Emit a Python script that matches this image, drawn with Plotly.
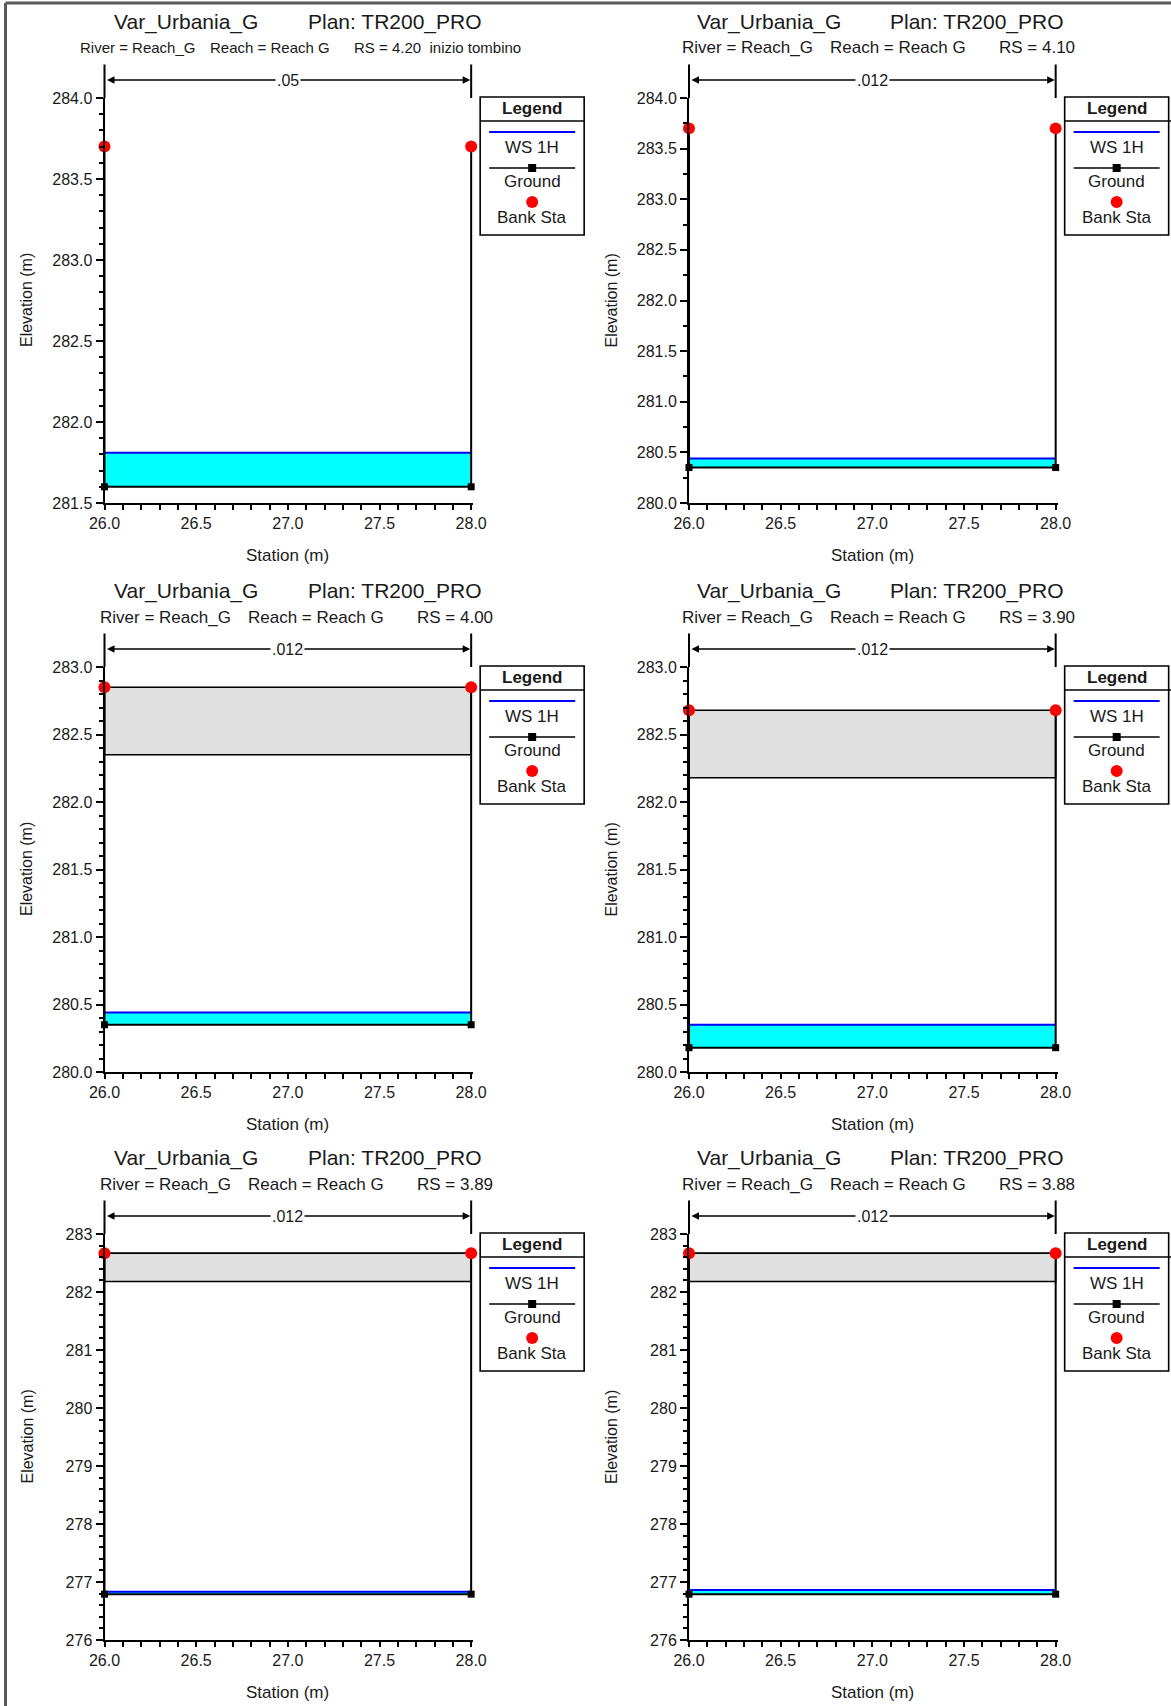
import plotly.graph_objects as go

W, H = 1171, 1706
FONT = "Liberation Sans, Arial, Helvetica, sans-serif"
INK = "#1a1a1a"

# ---- cross-section data (one entry per river station) ----
project = "Var_Urbania_G"
plan = "TR200_PRO"
river = "Reach_G"
reach = "Reach G"
rs_text = ["4.20\u00a0 inizio tombino", "4.10", "4.00", "3.90", "3.89", "3.88"]
manning_n = [".05", ".012", ".012", ".012", ".012", ".012"]
left_sta = [26.0, 26.0, 26.0, 26.0, 26.0, 26.0]
right_sta = [28.0, 28.0, 28.0, 28.0, 28.0, 28.0]
bank_elev = [283.70, 283.70, 282.85, 282.68, 282.67, 282.67]
invert_elev = [281.60, 280.35, 280.35, 280.18, 276.79, 276.79]
ws_elev = [281.81, 280.44, 280.44, 280.35, 276.83, 276.86]
deck_high = [None, None, 282.85, 282.68, 282.67, 282.67]
deck_low = [None, None, 282.35, 282.18, 282.18, 282.18]

# ---- axis settings ----
x_range = [26.0, 28.01]
x_dtick, x_minor = 0.5, 0.1
y_ranges = [(281.5, 284.0), (280.0, 284.0), (280.0, 283.0),
            (280.0, 283.0), (276.0, 283.0), (276.0, 283.0)]
y_dtick = [0.5, 0.5, 0.5, 0.5, 1.0, 1.0]
y_minor = [0.1, 0.25, 0.1, 0.1, 0.2, 0.2]
y_fmt = [".1f", ".1f", ".1f", ".1f", "d", "d"]

# ---- page geometry (pixels) ----
col_left = [104.5, 689.0]
plot_w = 368.5
unit_px = plot_w / (x_range[1] - x_range[0])
row_top = [98.0, 667.0, 1234.0]
row_bot = [503.0, 1072.0, 1640.0]
title_offs = [(7.5, 201.5), (6.0, 198.5)]
sub_offs = [(-7.0, 141.0, 310.0), (-9.0, 139.0, 308.0)]


def PX(x):
    return x / W


def PY(y):
    return 1 - y / H


fig = go.Figure()
annotations = []
shapes = []
layout_axes = {}


def text_ann(text, x, y, size, xanchor="center", yanchor="middle", bold=False,
             angle=0, **kw):
    d = dict(text=f"<b>{text}</b>" if bold else text, x=x, y=y,
             xref=kw.pop("xref", "paper"), yref=kw.pop("yref", "paper"),
             xanchor=xanchor, yanchor=yanchor, showarrow=False,
             textangle=angle, font=dict(family=FONT, size=size, color=INK))
    d.update(kw)
    annotations.append(d)


for i in range(6):
    r, c = divmod(i, 2)
    sfx = "" if i == 0 else str(i + 1)
    xa, ya = "x" + sfx, "y" + sfx
    L, T, B = col_left[c], row_top[r], row_bot[r]
    xs_l, xs_r = left_sta[i], right_sta[i]

    # water between invert and water surface
    fig.add_trace(go.Scatter(
        x=[xs_l, xs_r, xs_r, xs_l, xs_l],
        y=[invert_elev[i], invert_elev[i], ws_elev[i], ws_elev[i], invert_elev[i]],
        mode="lines", fill="toself", fillcolor="#00FFFF",
        line=dict(width=0, color="#00FFFF"), xaxis=xa, yaxis=ya,
        hoverinfo="skip", showlegend=False))
    # WS 1H
    fig.add_trace(go.Scatter(
        x=[xs_l, xs_r], y=[ws_elev[i], ws_elev[i]], mode="lines",
        line=dict(color="#0000FF", width=2), xaxis=xa, yaxis=ya,
        name="WS 1H", showlegend=False))
    # culvert deck between high and low chord
    if deck_high[i] is not None:
        fig.add_trace(go.Scatter(
            x=[xs_l, xs_r, xs_r, xs_l, xs_l],
            y=[deck_high[i], deck_high[i], deck_low[i], deck_low[i], deck_high[i]],
            mode="lines", fill="toself", fillcolor="#E0E0E0",
            line=dict(color="black", width=1.6), xaxis=xa, yaxis=ya,
            hoverinfo="skip", showlegend=False))
    # Ground
    fig.add_trace(go.Scatter(
        x=[xs_l, xs_l, xs_r, xs_r],
        y=[bank_elev[i], invert_elev[i], invert_elev[i], bank_elev[i]],
        mode="lines+markers", line=dict(color="black", width=2),
        marker=dict(symbol="square", size=7, color="black"),
        cliponaxis=False, xaxis=xa, yaxis=ya, name="Ground", showlegend=False))
    # Bank Sta
    fig.add_trace(go.Scatter(
        x=[xs_l, xs_r], y=[bank_elev[i], bank_elev[i]], mode="markers",
        marker=dict(symbol="circle", size=12, color="#FF0000"),
        cliponaxis=False, xaxis=xa, yaxis=ya, name="Bank Sta", showlegend=False))

    tickfont = dict(family=FONT, size=16, color=INK)
    layout_axes["xaxis" + sfx] = dict(
        domain=[PX(L), PX(L + plot_w)], anchor=ya, range=x_range,
        automargin=False,
        tickmode="linear", tick0=x_range[0], dtick=x_dtick, tickformat=".1f",
        ticks="outside", ticklen=5, tickwidth=1.5, tickcolor="black",
        showline=True, linecolor="black", linewidth=2,
        showgrid=False, zeroline=False, tickfont=tickfont,
        minor=dict(tick0=x_range[0], dtick=x_minor, ticks="outside", ticklen=5,
                   tickwidth=1.5, tickcolor="black", showgrid=False))
    y_lo, y_hi = y_ranges[i]
    layout_axes["yaxis" + sfx] = dict(
        domain=[PY(B), PY(T)], anchor=xa, range=[y_lo, y_hi],
        automargin=False,
        tickmode="linear", tick0=y_lo, dtick=y_dtick[i], tickformat=y_fmt[i],
        ticks="outside", ticklen=7, tickwidth=1.5, tickcolor="black",
        showline=True, linecolor="black", linewidth=2,
        showgrid=False, zeroline=False, tickfont=tickfont,
        minor=dict(tick0=y_lo, dtick=y_minor[i], ticks="outside", ticklen=4,
                   tickwidth=1.5, tickcolor="black", showgrid=False))

    # headings
    t0, t1 = title_offs[c]
    text_ann(project, PX(L + t0), PY(T - 76), 21, xanchor="left")
    text_ann("Plan: " + plan, PX(L + t1), PY(T - 76), 21, xanchor="left")
    if i == 0:
        offs, fs = (-26.5, 103.5, 247.5), 15
    else:
        offs, fs = sub_offs[c], 17
    subs = [f"River = {river}", f"Reach = {reach}", f"RS = {rs_text[i]}"]
    for o, s in zip(offs, subs):
        text_ann(s, PX(L + o), PY(T - 50), fs, xanchor="left")

    # axis titles
    text_ann("Station (m)", PX(L + (28.0 - 26.0) / 2 * unit_px), PY(B + 52), 17)
    text_ann("Elevation (m)", PX(L - 78), PY((T + B) / 2), 16, angle=-90)

    # Manning's n region marker
    for sta in (xs_l, xs_r):
        annotations.append(dict(
            x=sta, xref=xa, y=PY(T), yref="paper", ax=0, ay=-35,
            axref="pixel", ayref="pixel", showarrow=True, arrowhead=0,
            arrowwidth=2, arrowcolor="black", standoff=0, text=""))
    annotations.append(dict(
        x=xs_r, xref=xa, y=PY(T - 18), yref="paper", ax=xs_l, axref=xa,
        ay=0, ayref="pixel", showarrow=True, arrowhead=2, startarrowhead=2,
        arrowside="end+start", arrowsize=1, arrowwidth=1.5,
        arrowcolor="black", standoff=1, startstandoff=1, text=""))
    text_ann(manning_n[i], (xs_l + xs_r) / 2, PY(T - 18), 16,
             xref=xa, bgcolor="white", borderpad=1)

    # legend box
    bx0 = L + (28.0 - 26.0) * unit_px + 9
    bx1 = bx0 + 104
    by0 = T - 1
    by1 = by0 + 138
    cx = (bx0 + bx1) / 2
    shapes.append(dict(type="rect", xref="paper", yref="paper",
                       x0=PX(bx0), x1=PX(bx1), y0=PY(by1), y1=PY(by0),
                       line=dict(color="black", width=1.6), fillcolor="white"))
    hx1 = W if c == 1 else bx1
    shapes.append(dict(type="line", xref="paper", yref="paper",
                       x0=PX(bx0), x1=PX(hx1), y0=PY(by0 + 24), y1=PY(by0 + 24),
                       line=dict(color="black", width=1.6)))
    text_ann("Legend", PX(cx), PY(by0 + 11), 17, bold=True)
    shapes.append(dict(type="line", xref="paper", yref="paper",
                       x0=PX(bx0 + 9), x1=PX(bx1 - 9), y0=PY(by0 + 35), y1=PY(by0 + 35),
                       line=dict(color="#0000FF", width=2)))
    text_ann("WS 1H", PX(cx), PY(by0 + 50), 17)
    shapes.append(dict(type="line", xref="paper", yref="paper",
                       x0=PX(bx0 + 9), x1=PX(bx1 - 9), y0=PY(by0 + 71), y1=PY(by0 + 71),
                       line=dict(color="black", width=1.6)))
    shapes.append(dict(type="rect", xref="paper", yref="paper",
                       x0=PX(cx - 4), x1=PX(cx + 4), y0=PY(by0 + 75), y1=PY(by0 + 67),
                       line=dict(width=0), fillcolor="black"))
    text_ann("Ground", PX(cx), PY(by0 + 84), 17)
    shapes.append(dict(type="circle", xref="paper", yref="paper",
                       x0=PX(cx - 6), x1=PX(cx + 6), y0=PY(by0 + 111), y1=PY(by0 + 99),
                       line=dict(width=0), fillcolor="#FF0000"))
    text_ann("Bank Sta", PX(cx), PY(by0 + 120), 17)

# page frame
shapes.append(dict(type="line", xref="paper", yref="paper", x0=PX(5.5), x1=PX(5.5),
                   y0=0, y1=PY(3), line=dict(color="#5a5a5a", width=3)))
shapes.append(dict(type="line", xref="paper", yref="paper", x0=PX(5.5), x1=1,
                   y0=PY(3), y1=PY(3), line=dict(color="#5a5a5a", width=3)))

fig.update_layout(
    width=W, height=H,
    margin=dict(l=0, r=0, t=0, b=0, pad=0, autoexpand=False),
    paper_bgcolor="white", plot_bgcolor="white", showlegend=False,
    font=dict(family=FONT, color=INK),
    annotations=annotations, shapes=shapes, **layout_axes)

fig.write_html("out.html", config={"displayModeBar": False})
